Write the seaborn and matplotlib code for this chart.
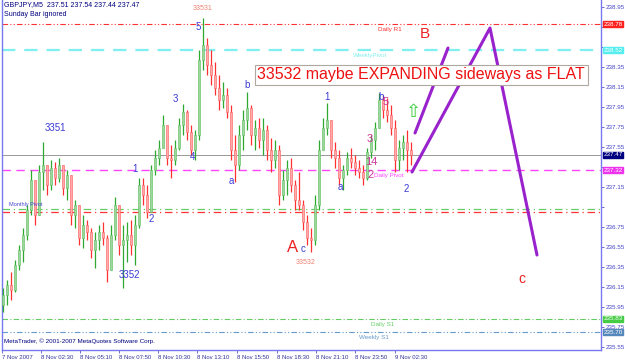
import numpy as np
import pandas as pd
import matplotlib
matplotlib.use("Agg")
import matplotlib.pyplot as plt
import seaborn as sns

# ---------------- data (GBPJPY M5, candles aggregated) ----------------
highs = [236.14, 236.22, 236.30, 236.42, 236.57, 236.74, 236.97, 237.32, 237.22, 237.37,
         237.60, 237.37, 237.42, 237.40, 237.44, 237.37, 237.32, 237.17, 237.02, 236.92,
         236.87, 236.82, 236.74, 236.70, 236.77, 236.80, 236.67, 236.77, 237.05, 236.87,
         236.77, 236.80, 236.82, 236.87, 237.24, 237.24, 237.17, 237.37, 237.52, 237.62,
         237.87, 237.74, 237.57, 237.62, 237.84, 237.98, 237.92, 237.77, 237.72, 238.52,
         238.84, 238.64, 238.52, 238.40, 238.27, 238.20, 238.14, 237.97, 237.67, 237.77,
         237.92, 238.10, 237.97, 237.82, 237.84, 237.84, 237.77, 237.64, 237.62, 237.57,
         237.32, 237.42, 237.44, 237.22, 237.30, 237.02, 236.87, 236.74, 237.07, 237.62,
         237.84, 237.99, 237.82, 237.60, 237.52, 237.37, 237.50, 237.54, 237.47, 237.42,
         237.37, 237.54, 237.67, 237.80, 238.09, 238.07, 238.04, 237.97, 237.82, 237.62,
         237.67, 237.72, 237.60]
lows = [235.90, 235.97, 236.02, 236.10, 236.32, 236.40, 236.62, 236.87, 236.77, 237.02,
        237.12, 237.07, 237.12, 237.17, 237.20, 237.07, 237.02, 236.77, 236.74, 236.57,
        236.54, 236.62, 236.44, 236.34, 236.52, 236.57, 236.20, 236.40, 236.62, 236.47,
        236.14, 236.40, 236.47, 236.37, 236.74, 236.97, 236.84, 236.90, 237.27, 237.37,
        237.54, 237.37, 237.24, 237.37, 237.52, 237.67, 237.62, 237.47, 237.42, 237.62,
        238.32, 238.27, 238.17, 238.07, 237.92, 237.94, 237.84, 237.42, 237.20, 237.32,
        237.52, 237.72, 237.57, 237.52, 237.54, 237.47, 237.42, 237.30, 237.34, 236.97,
        237.02, 237.07, 237.10, 236.92, 236.92, 236.72, 236.57, 236.50, 236.57, 236.92,
        237.52, 237.67, 237.44, 237.34, 237.17, 237.12, 237.27, 237.34, 237.27, 237.24,
        237.17, 237.22, 237.44, 237.52, 237.74, 237.84, 237.80, 237.67, 237.30, 237.32,
        237.42, 237.30, 237.37]
closes = [236.07, 236.17, 236.12, 236.37, 236.52, 236.67, 236.92, 237.22, 236.87, 237.30,
          237.37, 237.17, 237.34, 237.24, 237.37, 237.14, 237.27, 236.87, 236.97, 236.64,
          236.77, 236.70, 236.52, 236.62, 236.70, 236.64, 236.32, 236.67, 236.97, 236.57,
          236.62, 236.67, 236.57, 236.77, 237.17, 237.07, 236.90, 237.32, 237.44, 237.54,
          237.77, 237.44, 237.42, 237.54, 237.77, 237.90, 237.70, 237.52, 237.67, 238.42,
          238.57, 238.37, 238.27, 238.14, 238.02, 238.07, 237.90, 237.52, 237.37, 237.67,
          237.82, 237.94, 237.67, 237.74, 237.62, 237.72, 237.52, 237.42, 237.52, 237.07,
          237.22, 237.34, 237.17, 237.02, 236.97, 236.80, 236.64, 236.62, 236.97, 237.52,
          237.74, 237.82, 237.52, 237.44, 237.24, 237.32, 237.44, 237.40, 237.34, 237.30,
          237.24, 237.50, 237.62, 237.74, 238.02, 237.92, 237.87, 237.74, 237.42, 237.54,
          237.60, 237.52, 237.47]
opens = [235.97, 236.07, 236.17, 236.12, 236.37, 236.52, 236.67, 236.92, 237.22, 236.87,
         237.30, 237.37, 237.17, 237.34, 237.24, 237.37, 237.14, 237.27, 236.87, 236.97,
         236.64, 236.77, 236.70, 236.52, 236.62, 236.70, 236.64, 236.32, 236.67, 236.97,
         236.57, 236.62, 236.67, 236.57, 236.77, 237.17, 237.07, 236.90, 237.32, 237.44,
         237.54, 237.77, 237.44, 237.42, 237.54, 237.77, 237.90, 237.70, 237.52, 237.67,
         238.42, 238.57, 238.37, 238.27, 238.14, 238.02, 238.07, 237.90, 237.52, 237.37,
         237.67, 237.82, 237.94, 237.67, 237.74, 237.62, 237.72, 237.52, 237.42, 237.52,
         237.07, 237.22, 237.34, 237.17, 237.02, 236.97, 236.80, 236.64, 236.62, 236.97,
         237.52, 237.74, 237.82, 237.52, 237.44, 237.24, 237.32, 237.44, 237.40, 237.34,
         237.30, 237.24, 237.50, 237.62, 237.74, 238.02, 237.92, 237.87, 237.74, 237.42,
         237.54, 237.60, 237.52]

time_labels = ["7 Nov 2007", "8 Nov 02:30", "8 Nov 05:10", "8 Nov 07:50", "8 Nov 10:30",
               "8 Nov 13:10", "8 Nov 15:50", "8 Nov 18:30", "8 Nov 21:10", "8 Nov 23:50",
               "9 Nov 02:30"]
time_ticks = [-0.25, 9.5, 19.25, 29, 38.75, 48.5, 58.5, 68.5, 78.25, 88, 98]

price_ticks = [238.95, 238.75, 238.55, 238.35, 238.15, 237.95, 237.75, 237.55, 237.35,
               237.15, 236.95, 236.75, 236.55, 236.35, 236.15, 235.95, 235.75, 235.55]
hidden_ticks = [238.75, 238.55, 237.35, 236.95]

# horizontal levels
level_names = ["Daily R1", "WeeklyPivot", "Daily Pivot", "Daily S1", "Weekly S1"]
level_values = [238.78, 238.52, 237.32, 235.83, 235.70]
level_colors = ["#ff3333", "#7fefef", "#ff44ff", "#66cc66", "#6699cc"]
level_styles = [(0, (5, 2, 1, 2, 1, 2)), (0, (6, 4)), (0, (6, 4)), (0, (5, 2, 1, 2)),
                (0, (5, 2, 1, 2, 1, 2))]
level_widths = [0.8, 1.6, 1.0, 0.8, 0.8]
level_label_x = [96.75, 91.75, 96.5, 95.0, 92.75]
extra_levels = [236.93, 236.90]
extra_colors = ["#66cc66", "#ff3333"]
current_price = 237.47

# Elliott wave projection (purple)
proj1_x = [103.0, 111.25]
proj1_y = [237.69, 238.54]
proj2_x = [102.25, 121.75, 133.5]
proj2_y = [237.30, 238.74, 236.47]

# wave labels: (text, x index, price, color, size)
blue = "#3b3bd6"
wave_labels = [
    ("3351", 13.0, 237.74, blue, 7), ("3352", 31.5, 236.27, blue, 7),
    ("1", 33.0, 237.33, blue, 7), ("2", 37.0, 236.83, blue, 7),
    ("3", 43.0, 238.03, blue, 7), ("4", 47.5, 237.45, blue, 7),
    ("5", 48.75, 238.75, blue, 7), ("a", 57.0, 237.21, blue, 7),
    ("b", 61.0, 238.17, blue, 7), ("c", 75.0, 236.53, blue, 7),
    ("1", 81.0, 238.05, blue, 7), ("a", 84.25, 237.15, blue, 7),
    ("b", 94.5, 238.05, blue, 7), ("2", 100.75, 237.13, blue, 7),
    ("3", 91.75, 237.63, "#cc3399", 8), ("5", 95.75, 238.00, "#cc3399", 8),
    ("14", 92.0, 237.40, "#cc3399", 8), ("2", 92.0, 237.27, "#cc3399", 8),
    ("A", 72.5, 236.55, "#ee2222", 12), ("B", 105.5, 238.68, "#ee2222", 11),
    ("c", 129.75, 236.23, "#ee2222", 10),
    ("33531", 50.0, 238.94, "#f08070", 5), ("33532", 75.75, 236.40, "#f08070", 5),
]

# ---------------- drawing ----------------
sns.set_theme(style="white")
plt.rcParams["font.family"] = ["Liberation Sans", "DejaVu Sans"]

fig = plt.figure(figsize=(6.25, 3.63), dpi=100)
ax = fig.add_axes([2 / 625, 13 / 363, 599 / 625, 350 / 363])
ax.set_facecolor("white")

df = pd.DataFrame({"open": opens, "high": highs, "low": lows, "close": closes})
df["x"] = np.arange(len(df))
up = df["close"] >= df["open"]
lo = np.minimum.reduce([df["low"], df["open"], df["close"]])
hi = np.maximum.reduce([df["high"], df["open"], df["close"]])

# levels behind candles
for v, c, ls, lw in zip(level_values, level_colors, level_styles, level_widths):
    ax.axhline(v, color=c, ls=ls, lw=lw, zorder=1)
for v, c in zip(extra_levels, extra_colors):
    ax.axhline(v, color=c, ls=(0, (6, 3, 1, 3)), lw=0.9, zorder=1)
ax.axhline(current_price, color="#888888", lw=0.6, zorder=1)

# candles
ax.vlines(df["x"][up], lo[up], hi[up], color="#2fa82f", lw=0.9, zorder=3)
ax.vlines(df["x"][~up], lo[~up], hi[~up], color="#ff3030", lw=0.9, zorder=3)
body_lo = np.minimum(df["open"], df["close"])
body_h = np.maximum(np.abs(df["close"] - df["open"]), 0.008)
ax.bar(df["x"][up], body_h[up], bottom=body_lo[up], width=0.55, color="#9fd69f",
       edgecolor="#5fbf5f", lw=0.4, zorder=4)
ax.bar(df["x"][~up], body_h[~up], bottom=body_lo[~up], width=0.55, color="#ffaaaa",
       edgecolor="#ff6060", lw=0.4, zorder=4)

# projection lines via seaborn
sns.lineplot(x=proj1_x, y=proj1_y, ax=ax, color="#9922cc", lw=2.2, sort=False, zorder=6)
sns.lineplot(x=proj2_x, y=proj2_y, ax=ax, color="#9922cc", lw=2.2, sort=False, zorder=6)

ax.set_xlim(-0.25, 149.5)
ax.set_ylim(235.52, 239.02)

# axes styling
for s in ["left", "right", "bottom"]:
    ax.spines[s].set_color("#7777ee")
    ax.spines[s].set_linewidth(1.0)
ax.spines["top"].set_visible(False)
ax.yaxis.tick_right()
ax.set_yticks(price_ticks)
ax.set_yticklabels(["" if t in hidden_ticks else f"{t:.2f}" for t in price_ticks])
ax.tick_params(axis="y", direction="out", length=2, width=0.6, color="#5555cc",
               labelsize=4.5, labelcolor="#4444cc", pad=1, right=True, left=False)
ax.set_xticks(time_ticks)
ax.set_xticklabels(time_labels, ha="left")
ax.tick_params(axis="x", direction="out", length=2, width=0.6, color="#5555cc",
               labelsize=4.3, labelcolor="#333399", pad=1.5, bottom=True)
ax.grid(False)

# right price boxes
box_vals = [238.78, 238.52, current_price, 237.32, 235.83, 235.70]
box_cols = ["#ff2020", "#55eeee", "#000080", "#ee33ee", "#44cc44", "#5588bb"]
for v, c in zip(box_vals, box_cols):
    ax.text(1.004, v, f"{v:.2f}", transform=ax.get_yaxis_transform(), fontsize=4.5,
            color="white", va="center", ha="left", zorder=10, clip_on=False,
            bbox=dict(boxstyle="square,pad=0.12", fc=c, ec=c))

# level labels
for name, v, c, lx in zip(level_names, level_values, level_colors, level_label_x):
    ax.text(lx, v - 0.03, name, fontsize=4.5, color=c, ha="center", va="top", zorder=7)
ax.text(1.5, 236.95, "Monthly Pivot", fontsize=4, color="#4444cc", ha="left",
        va="bottom", zorder=7)

# wave labels
for t, x, y, c, s in wave_labels:
    ax.text(x, y, t, fontsize=s, color=c, ha="center", va="center", zorder=8)

# arrow
ax.text(102.5, 237.90, "\u21e7", fontsize=13, color="#33cc33", ha="center",
        va="center", family="DejaVu Sans", zorder=8)

# comment box
ax.text(0.700, 0.786, "33532 maybe EXPANDING sideways as FLAT", transform=ax.transAxes,
        fontsize=11.5, color="#ee1111", ha="center", va="center", zorder=9,
        bbox=dict(boxstyle="square,pad=0.15", fc="white", ec="#b0a8a0", lw=0.8))

# header / footer
fig.text(4 / 625, 1 - 5 / 363, "GBPJPY,M5  237.51 237.54 237.44 237.47", fontsize=5,
         color="#000080", ha="left", va="center")
fig.text(4 / 625, 1 - 14 / 363, "Sunday Bar ignored", fontsize=5, color="#000080",
         ha="left", va="center")
fig.text(4 / 625, 1 - 341 / 363, "MetaTrader, \u00a9 2001-2007 MetaQuotes Software Corp.",
         fontsize=4.5, color="#000080", ha="left", va="center")

fig.savefig("out.png", dpi=100, facecolor="white")
